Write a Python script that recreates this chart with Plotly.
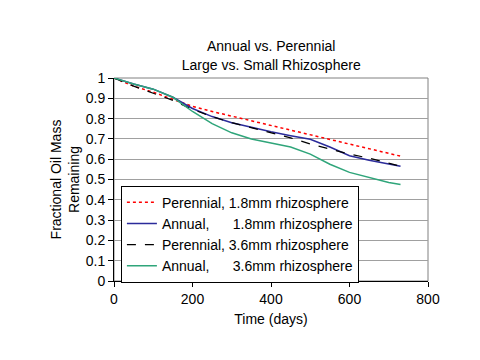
import plotly.graph_objects as go

days = [0, 50, 100, 150, 200, 250, 300, 350, 400, 450, 500, 550, 600, 650, 700, 730]
perennial_18 = [1.0, 0.96, 0.93, 0.895, 0.86, 0.835, 0.812, 0.79, 0.768, 0.745, 0.722, 0.70, 0.675, 0.652, 0.63, 0.615]
annual_18 = [1.0, 0.97, 0.945, 0.905, 0.85, 0.81, 0.78, 0.757, 0.735, 0.716, 0.698, 0.66, 0.617, 0.595, 0.575, 0.565]
perennial_36 = [1.0, 0.96, 0.925, 0.89, 0.845, 0.81, 0.78, 0.755, 0.73, 0.705, 0.675, 0.65, 0.625, 0.605, 0.58, 0.565]
annual_36 = [1.0, 0.97, 0.945, 0.905, 0.835, 0.775, 0.73, 0.70, 0.68, 0.66, 0.625, 0.575, 0.535, 0.51, 0.485, 0.475]

NB = "\u00a0"
names = [
    "Perennial, 1.8mm rhizosphere",
    "Annual," + NB * 6 + "1.8mm rhizosphere",
    "Perennial, 3.6mm rhizosphere",
    "Annual," + NB * 6 + "3.6mm rhizosphere",
]

font = "Liberation Sans, Arial, sans-serif"
fig = go.Figure()
fig.add_trace(go.Scatter(x=days, y=perennial_18, mode="lines", name=names[0],
                         line=dict(color="#ff0000", width=1.5, dash="dot")))
fig.add_trace(go.Scatter(x=days, y=annual_18, mode="lines", name=names[1],
                         line=dict(color="#2b2b9a", width=1.5)))
fig.add_trace(go.Scatter(x=days, y=perennial_36, mode="lines", name=names[2],
                         line=dict(color="#000000", width=1.2, dash="dash")))
fig.add_trace(go.Scatter(x=days, y=annual_36, mode="lines", name=names[3],
                         line=dict(color="#2fa57a", width=1.5, dash="solid")))

fig.update_layout(
    width=480, height=360,
    margin=dict(l=114, r=52, t=78, b=79),
    paper_bgcolor="white", plot_bgcolor="white",
    font=dict(family=font, size=14, color="black"),
    title=dict(text="Annual vs. Perennial<br>Large vs. Small Rhizosphere",
               x=0.565, xanchor="center", y=0.857, yanchor="middle",
               font=dict(size=14)),
    xaxis=dict(range=[0, 800], tickvals=[0, 200, 400, 600, 800],
               showgrid=False, zeroline=False, showline=True, linecolor="black",
               ticks="outside", ticklen=5, tickcolor="black", automargin=False,
               tickfont=dict(size=14),
               title=dict(text="Time (days)", standoff=8, font=dict(size=14))),
    yaxis=dict(range=[0, 1], tickvals=[i / 10 for i in range(11)],
               ticktext=["0", "0.1", "0.2", "0.3", "0.4", "0.5", "0.6", "0.7", "0.8", "0.9", "1"],
               showgrid=True, gridcolor="#a0a0a0", zeroline=False,
               showline=True, linecolor="black", automargin=False,
               ticks="outside", ticklen=5, tickcolor="black",
               tickfont=dict(size=14),
               title=dict(text="Fractional Oil Mass<br>Remaining", standoff=2, font=dict(size=14))),
    legend=dict(x=0.022, y=0.47, xanchor="left", yanchor="top",
                bgcolor="white", bordercolor="black", borderwidth=1,
                font=dict(size=14), tracegroupgap=0, itemwidth=30),
    showlegend=True,
)
fig.add_shape(type="rect", xref="paper", yref="paper", x0=0, y0=0, x1=1, y1=1,
              line=dict(color="#808080", width=1), layer="below")

fig.write_html("out.html", config={"displayModeBar": False},
               post_script="document.body.style.margin='0px';")
